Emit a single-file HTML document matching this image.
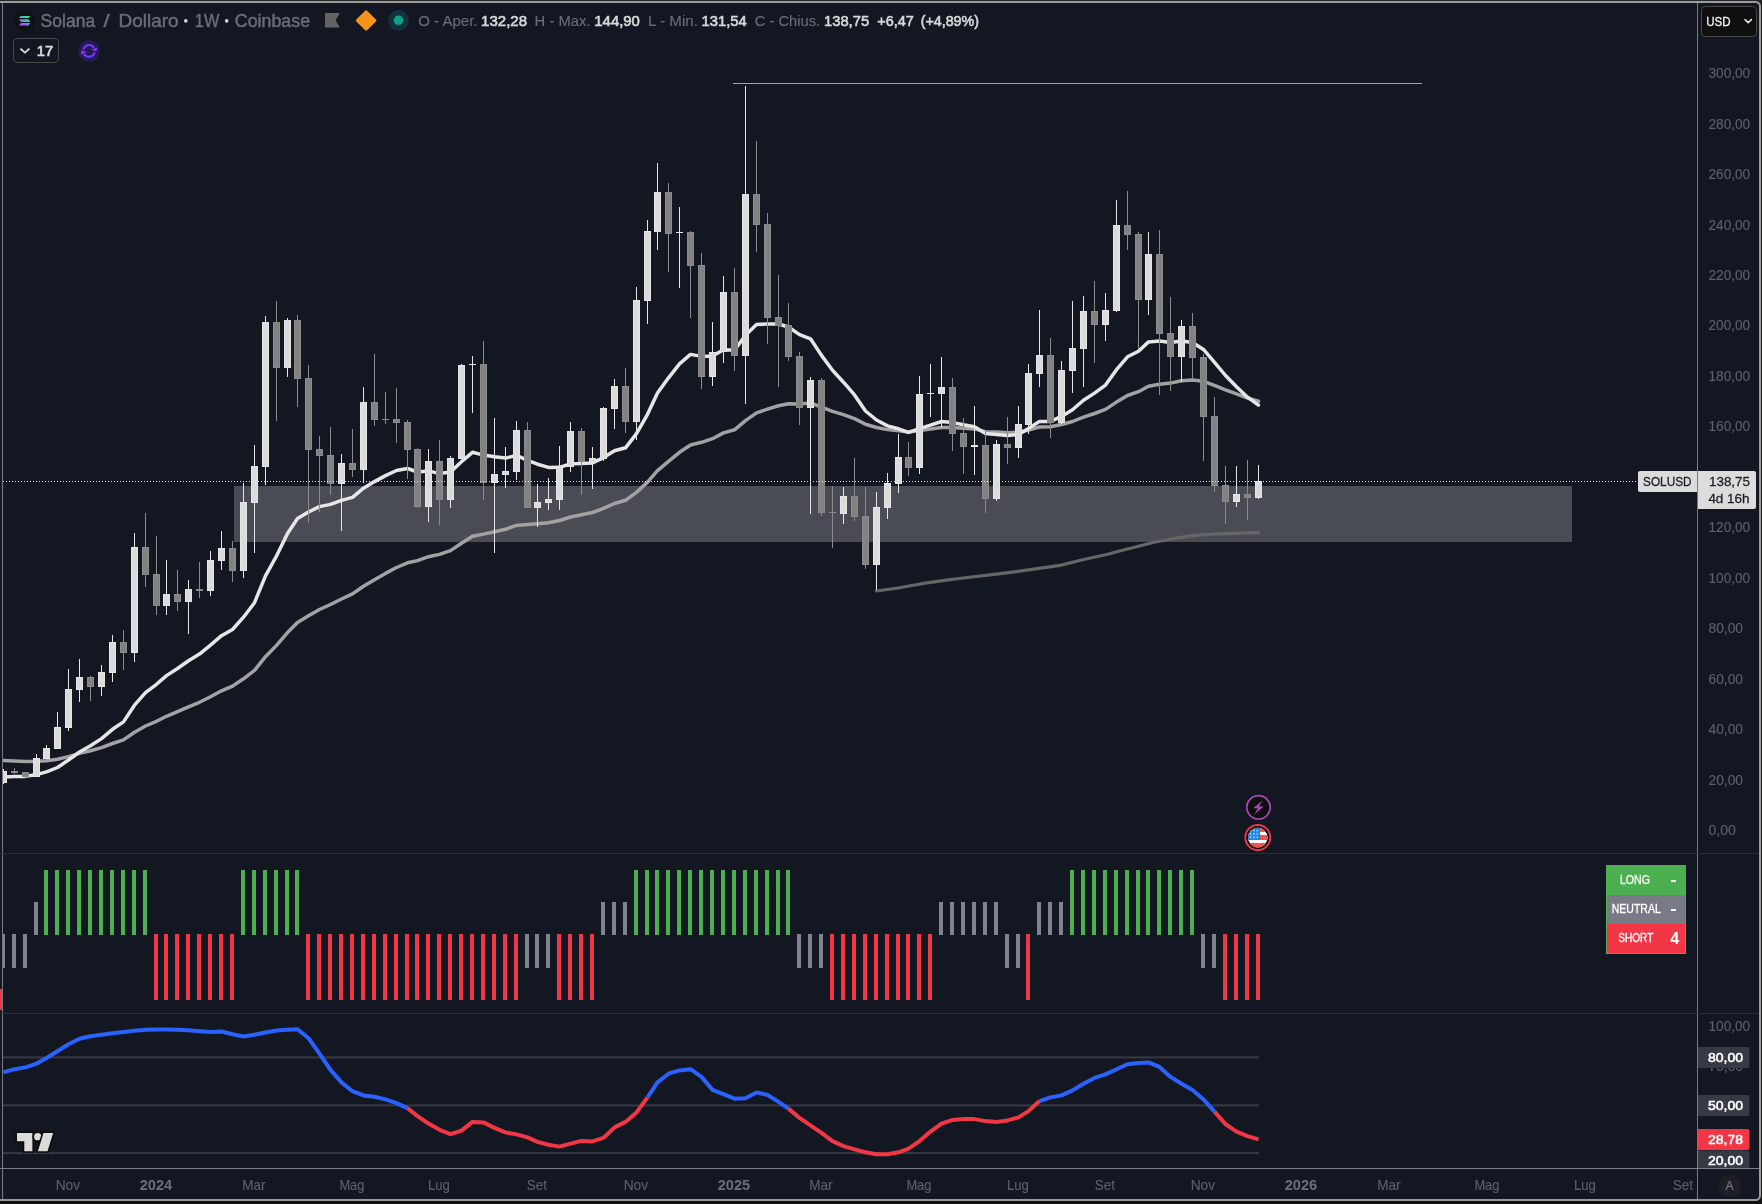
<!DOCTYPE html>
<html><head><meta charset="utf-8"><title>SOLUSD</title>
<style>
html,body{margin:0;padding:0;background:#111111;}
body{width:1762px;height:1204px;overflow:hidden;position:relative;font-family:"Liberation Sans",sans-serif;}
svg{position:absolute;left:0;top:0;display:block;will-change:transform}
text{font-family:"Liberation Sans",sans-serif;}
.ax{fill:#5d606b;font-size:13px}
.axw{fill:#ffffff;font-size:13px;font-weight:bold}
.tm{fill:#5d606b;font-size:14px}
.tmb{fill:#6a6d78;font-size:14px;font-weight:bold}
</style></head><body>
<svg width="1762" height="1204" viewBox="0 0 1762 1204">
<rect x="0" y="0" width="1762" height="2" fill="#262626"/>
<rect x="1758" y="0" width="4" height="8" fill="#262626"/>
<rect x="1761" y="0" width="1" height="1204" fill="#1c1c1c"/>
<rect x="-10" y="2" width="1770" height="1198" rx="4.5" fill="#131722" stroke="#9b9b9b" stroke-width="2"/>
<defs><clipPath id="cm"><rect x="3" y="3" width="1694" height="850"/></clipPath><clipPath id="co"><rect x="3" y="1014" width="1694" height="154"/></clipPath></defs>
<g clip-path="url(#cm)">
<rect x="234" y="486" width="1338" height="56" fill="#4a4c55" shape-rendering="crispEdges"/>
<rect x="733" y="83" width="689" height="1" fill="#f7931a" shape-rendering="crispEdges"/>
<path d="M876.4,591.0 L899.1,587.8 L921.8,583.7 L944.5,580.3 L967.2,577.5 L989.9,574.9 L1012.6,572.1 L1035.3,568.8 L1060.0,565.4 L1083.8,559.5 L1107.7,554.3 L1119.6,551.0 L1131.5,548.0 L1143.4,545.0 L1155.4,542.0 L1167.3,539.7 L1179.2,537.6 L1191.1,535.8 L1203.0,534.6 L1215.0,534.0 L1226.9,533.6 L1238.8,533.2 L1258.5,532.6" fill="none" stroke="#666666" stroke-width="3.2" stroke-linejoin="round" stroke-linecap="round"/>
<path d="M3.5,760.4 L14.5,760.9 L25.5,761.4 L36.5,761.3 L46.5,760.7 L57.5,759.3 L68.5,756.6 L79.5,753.4 L90.5,750.8 L101.5,747.6 L112.5,743.5 L123.5,739.9 L134.5,732.3 L145.5,726.0 L156.5,721.3 L166.5,716.3 L177.5,711.7 L188.5,706.9 L199.5,702.3 L210.5,696.7 L221.5,690.8 L232.5,686.1 L243.5,678.8 L254.5,670.4 L265.5,656.7 L276.5,645.4 L287.5,632.6 L297.5,622.6 L308.5,615.8 L319.5,609.5 L330.5,604.5 L341.5,599.0 L352.5,593.9 L363.5,586.3 L374.5,579.7 L385.5,573.4 L396.5,567.5 L407.5,562.8 L417.5,560.6 L428.5,556.7 L439.5,554.4 L450.5,550.6 L461.5,543.3 L472.5,536.2 L483.5,534.1 L494.5,531.7 L505.5,529.3 L516.5,525.4 L527.5,524.6 L537.5,523.7 L548.5,522.7 L559.5,520.5 L570.5,517.0 L581.5,514.8 L592.5,512.5 L603.5,508.4 L614.5,503.5 L625.5,500.3 L636.5,492.4 L647.5,482.1 L657.5,470.7 L668.5,461.4 L679.5,452.3 L690.5,445.0 L701.5,442.3 L712.5,438.7 L723.5,432.9 L734.5,429.8 L745.5,420.6 L756.5,412.9 L767.5,409.1 L778.5,405.8 L788.5,403.8 L799.5,403.9 L810.5,403.0 L821.5,407.2 L832.5,411.4 L843.5,414.6 L854.5,418.6 L865.5,424.3 L876.5,427.5 L887.5,429.6 L898.5,430.7 L908.5,432.1 L919.5,430.6 L930.5,429.1 L941.5,427.4 L952.5,427.6 L963.5,428.3 L974.5,428.9 L985.5,431.7 L996.5,432.1 L1007.5,432.7 L1018.5,432.3 L1028.5,430.0 L1039.5,427.0 L1050.5,426.8 L1061.5,424.5 L1072.5,421.5 L1083.5,417.1 L1094.5,413.5 L1105.5,409.4 L1116.5,402.1 L1127.5,395.5 L1138.5,391.7 L1148.5,386.3 L1159.5,384.2 L1170.5,383.1 L1181.5,380.8 L1192.5,379.9 L1203.5,381.3 L1214.5,385.3 L1225.5,389.9 L1236.5,393.9 L1247.5,398.0 L1258.5,401.2" fill="none" stroke="#a2a2a2" stroke-width="3.5" stroke-linejoin="round" stroke-linecap="round"/>
<path d="M3.5,776.9 L14.5,776.4 L25.5,776.4 L36.5,774.5 L46.5,771.9 L57.5,767.5 L68.5,760.0 L79.5,752.0 L90.5,745.7 L101.5,738.6 L112.5,729.3 L123.5,721.9 L134.5,705.2 L145.5,692.7 L156.5,684.3 L166.5,675.6 L177.5,668.5 L188.5,660.8 L199.5,654.1 L210.5,645.1 L221.5,635.7 L232.5,629.5 L243.5,617.2 L254.5,602.7 L265.5,575.9 L276.5,556.0 L287.5,533.4 L297.5,518.6 L308.5,512.0 L319.5,506.6 L330.5,504.4 L341.5,500.4 L352.5,497.4 L363.5,488.2 L374.5,481.6 L385.5,475.6 L396.5,470.5 L407.5,468.5 L417.5,472.0 L428.5,470.9 L439.5,473.6 L450.5,472.0 L461.5,461.7 L472.5,452.3 L483.5,455.1 L494.5,456.8 L505.5,458.1 L516.5,455.4 L527.5,460.3 L537.5,464.2 L548.5,467.4 L559.5,467.3 L570.5,463.8 L581.5,463.5 L592.5,462.9 L603.5,457.6 L614.5,450.7 L625.5,447.8 L636.5,433.7 L647.5,414.3 L657.5,393.0 L668.5,377.8 L679.5,363.8 L690.5,354.4 L701.5,356.4 L712.5,355.9 L723.5,349.7 L734.5,350.2 L745.5,335.2 L756.5,324.6 L767.5,323.9 L778.5,324.0 L788.5,327.0 L799.5,334.6 L810.5,338.8 L821.5,355.4 L832.5,370.3 L843.5,382.2 L854.5,394.9 L865.5,411.0 L876.5,420.0 L887.5,425.9 L898.5,428.8 L908.5,432.4 L919.5,428.7 L930.5,425.2 L941.5,421.5 L952.5,422.6 L963.5,424.8 L974.5,426.7 L985.5,433.4 L996.5,434.4 L1007.5,435.6 L1018.5,434.4 L1028.5,428.5 L1039.5,421.4 L1050.5,421.4 L1061.5,416.4 L1072.5,409.8 L1083.5,400.3 L1094.5,393.1 L1105.5,385.1 L1116.5,369.7 L1127.5,356.8 L1138.5,351.3 L1148.5,341.9 L1159.5,341.1 L1170.5,342.5 L1181.5,340.9 L1192.5,342.4 L1203.5,349.4 L1214.5,362.3 L1225.5,375.5 L1236.5,386.7 L1247.5,397.2 L1258.5,405.1" fill="none" stroke="#e6e6e6" stroke-width="3.5" stroke-linejoin="round" stroke-linecap="round"/>
<g shape-rendering="crispEdges">
<rect x="3" y="769" width="1" height="15" fill="#e5e5e5"/>
<rect x="0" y="771" width="7" height="12" fill="#e5e5e5"/>
<rect x="1" y="772" width="5" height="10" fill="#dbdbdb"/>
<rect x="14" y="768" width="1" height="6" fill="#8b8b8b"/>
<rect x="11" y="771" width="7" height="2" fill="#8b8b8b"/>
<rect x="25" y="772" width="1" height="6" fill="#8b8b8b"/>
<rect x="22" y="772" width="7" height="5" fill="#8b8b8b"/>
<rect x="23" y="773" width="5" height="3" fill="#828282"/>
<rect x="36" y="754" width="1" height="23" fill="#e5e5e5"/>
<rect x="33" y="758" width="7" height="19" fill="#e5e5e5"/>
<rect x="34" y="759" width="5" height="17" fill="#dbdbdb"/>
<rect x="46" y="745" width="1" height="14" fill="#e5e5e5"/>
<rect x="43" y="748" width="7" height="11" fill="#e5e5e5"/>
<rect x="44" y="749" width="5" height="9" fill="#dbdbdb"/>
<rect x="57" y="712" width="1" height="37" fill="#e5e5e5"/>
<rect x="54" y="727" width="7" height="22" fill="#e5e5e5"/>
<rect x="55" y="728" width="5" height="20" fill="#dbdbdb"/>
<rect x="68" y="669" width="1" height="62" fill="#e5e5e5"/>
<rect x="65" y="689" width="7" height="39" fill="#e5e5e5"/>
<rect x="66" y="690" width="5" height="37" fill="#dbdbdb"/>
<rect x="79" y="659" width="1" height="43" fill="#e5e5e5"/>
<rect x="76" y="677" width="7" height="13" fill="#e5e5e5"/>
<rect x="77" y="678" width="5" height="11" fill="#dbdbdb"/>
<rect x="90" y="676" width="1" height="25" fill="#8b8b8b"/>
<rect x="87" y="677" width="7" height="10" fill="#8b8b8b"/>
<rect x="88" y="678" width="5" height="8" fill="#828282"/>
<rect x="101" y="665" width="1" height="31" fill="#e5e5e5"/>
<rect x="98" y="672" width="7" height="15" fill="#e5e5e5"/>
<rect x="99" y="673" width="5" height="13" fill="#dbdbdb"/>
<rect x="112" y="635" width="1" height="47" fill="#e5e5e5"/>
<rect x="109" y="642" width="7" height="31" fill="#e5e5e5"/>
<rect x="110" y="643" width="5" height="29" fill="#dbdbdb"/>
<rect x="123" y="630" width="1" height="40" fill="#8b8b8b"/>
<rect x="120" y="642" width="7" height="11" fill="#8b8b8b"/>
<rect x="121" y="643" width="5" height="9" fill="#828282"/>
<rect x="134" y="533" width="1" height="129" fill="#e5e5e5"/>
<rect x="131" y="547" width="7" height="106" fill="#e5e5e5"/>
<rect x="132" y="548" width="5" height="104" fill="#dbdbdb"/>
<rect x="145" y="513" width="1" height="74" fill="#8b8b8b"/>
<rect x="142" y="547" width="7" height="28" fill="#8b8b8b"/>
<rect x="143" y="548" width="5" height="26" fill="#828282"/>
<rect x="156" y="536" width="1" height="79" fill="#8b8b8b"/>
<rect x="153" y="574" width="7" height="32" fill="#8b8b8b"/>
<rect x="154" y="575" width="5" height="30" fill="#828282"/>
<rect x="166" y="560" width="1" height="55" fill="#e5e5e5"/>
<rect x="163" y="594" width="7" height="12" fill="#e5e5e5"/>
<rect x="164" y="595" width="5" height="10" fill="#dbdbdb"/>
<rect x="177" y="570" width="1" height="41" fill="#8b8b8b"/>
<rect x="174" y="594" width="7" height="8" fill="#8b8b8b"/>
<rect x="175" y="595" width="5" height="6" fill="#828282"/>
<rect x="188" y="580" width="1" height="54" fill="#e5e5e5"/>
<rect x="185" y="589" width="7" height="13" fill="#e5e5e5"/>
<rect x="186" y="590" width="5" height="11" fill="#dbdbdb"/>
<rect x="199" y="562" width="1" height="36" fill="#8b8b8b"/>
<rect x="196" y="589" width="7" height="2" fill="#8b8b8b"/>
<rect x="210" y="551" width="1" height="45" fill="#e5e5e5"/>
<rect x="207" y="560" width="7" height="31" fill="#e5e5e5"/>
<rect x="208" y="561" width="5" height="29" fill="#dbdbdb"/>
<rect x="221" y="531" width="1" height="39" fill="#e5e5e5"/>
<rect x="218" y="548" width="7" height="13" fill="#e5e5e5"/>
<rect x="219" y="549" width="5" height="11" fill="#dbdbdb"/>
<rect x="232" y="541" width="1" height="41" fill="#8b8b8b"/>
<rect x="229" y="548" width="7" height="23" fill="#8b8b8b"/>
<rect x="230" y="549" width="5" height="21" fill="#828282"/>
<rect x="243" y="483" width="1" height="95" fill="#e5e5e5"/>
<rect x="240" y="502" width="7" height="69" fill="#e5e5e5"/>
<rect x="241" y="503" width="5" height="67" fill="#dbdbdb"/>
<rect x="254" y="445" width="1" height="108" fill="#e5e5e5"/>
<rect x="251" y="466" width="7" height="37" fill="#e5e5e5"/>
<rect x="252" y="467" width="5" height="35" fill="#dbdbdb"/>
<rect x="265" y="316" width="1" height="169" fill="#e5e5e5"/>
<rect x="262" y="322" width="7" height="145" fill="#e5e5e5"/>
<rect x="263" y="323" width="5" height="143" fill="#dbdbdb"/>
<rect x="276" y="301" width="1" height="120" fill="#8b8b8b"/>
<rect x="273" y="322" width="7" height="46" fill="#8b8b8b"/>
<rect x="274" y="323" width="5" height="44" fill="#828282"/>
<rect x="287" y="318" width="1" height="59" fill="#e5e5e5"/>
<rect x="284" y="320" width="7" height="48" fill="#e5e5e5"/>
<rect x="285" y="321" width="5" height="46" fill="#dbdbdb"/>
<rect x="297" y="315" width="1" height="92" fill="#8b8b8b"/>
<rect x="294" y="320" width="7" height="59" fill="#8b8b8b"/>
<rect x="295" y="321" width="5" height="57" fill="#828282"/>
<rect x="308" y="365" width="1" height="158" fill="#8b8b8b"/>
<rect x="305" y="378" width="7" height="72" fill="#8b8b8b"/>
<rect x="306" y="379" width="5" height="70" fill="#828282"/>
<rect x="319" y="436" width="1" height="76" fill="#8b8b8b"/>
<rect x="316" y="449" width="7" height="7" fill="#8b8b8b"/>
<rect x="317" y="450" width="5" height="5" fill="#828282"/>
<rect x="330" y="427" width="1" height="68" fill="#8b8b8b"/>
<rect x="327" y="455" width="7" height="29" fill="#8b8b8b"/>
<rect x="328" y="456" width="5" height="27" fill="#828282"/>
<rect x="341" y="454" width="1" height="77" fill="#e5e5e5"/>
<rect x="338" y="463" width="7" height="21" fill="#e5e5e5"/>
<rect x="339" y="464" width="5" height="19" fill="#dbdbdb"/>
<rect x="352" y="429" width="1" height="48" fill="#8b8b8b"/>
<rect x="349" y="463" width="7" height="7" fill="#8b8b8b"/>
<rect x="350" y="464" width="5" height="5" fill="#828282"/>
<rect x="363" y="387" width="1" height="96" fill="#e5e5e5"/>
<rect x="360" y="402" width="7" height="68" fill="#e5e5e5"/>
<rect x="361" y="403" width="5" height="66" fill="#dbdbdb"/>
<rect x="374" y="354" width="1" height="72" fill="#8b8b8b"/>
<rect x="371" y="402" width="7" height="18" fill="#8b8b8b"/>
<rect x="372" y="403" width="5" height="16" fill="#828282"/>
<rect x="385" y="392" width="1" height="32" fill="#8b8b8b"/>
<rect x="382" y="419" width="7" height="1" fill="#8b8b8b"/>
<rect x="396" y="388" width="1" height="55" fill="#8b8b8b"/>
<rect x="393" y="419" width="7" height="4" fill="#8b8b8b"/>
<rect x="394" y="420" width="5" height="2" fill="#828282"/>
<rect x="407" y="420" width="1" height="59" fill="#8b8b8b"/>
<rect x="404" y="422" width="7" height="28" fill="#8b8b8b"/>
<rect x="405" y="423" width="5" height="26" fill="#828282"/>
<rect x="417" y="448" width="1" height="60" fill="#8b8b8b"/>
<rect x="414" y="449" width="7" height="58" fill="#8b8b8b"/>
<rect x="415" y="450" width="5" height="56" fill="#828282"/>
<rect x="428" y="449" width="1" height="73" fill="#e5e5e5"/>
<rect x="425" y="461" width="7" height="46" fill="#e5e5e5"/>
<rect x="426" y="462" width="5" height="44" fill="#dbdbdb"/>
<rect x="439" y="440" width="1" height="85" fill="#8b8b8b"/>
<rect x="436" y="461" width="7" height="39" fill="#8b8b8b"/>
<rect x="437" y="462" width="5" height="37" fill="#828282"/>
<rect x="450" y="456" width="1" height="52" fill="#e5e5e5"/>
<rect x="447" y="458" width="7" height="42" fill="#e5e5e5"/>
<rect x="448" y="459" width="5" height="40" fill="#dbdbdb"/>
<rect x="461" y="364" width="1" height="95" fill="#e5e5e5"/>
<rect x="458" y="365" width="7" height="94" fill="#e5e5e5"/>
<rect x="459" y="366" width="5" height="92" fill="#dbdbdb"/>
<rect x="472" y="356" width="1" height="57" fill="#e5e5e5"/>
<rect x="469" y="364" width="7" height="1" fill="#e5e5e5"/>
<rect x="483" y="341" width="1" height="159" fill="#8b8b8b"/>
<rect x="480" y="364" width="7" height="119" fill="#8b8b8b"/>
<rect x="481" y="365" width="5" height="117" fill="#828282"/>
<rect x="494" y="418" width="1" height="135" fill="#e5e5e5"/>
<rect x="491" y="474" width="7" height="9" fill="#e5e5e5"/>
<rect x="492" y="475" width="5" height="7" fill="#dbdbdb"/>
<rect x="505" y="447" width="1" height="41" fill="#e5e5e5"/>
<rect x="502" y="471" width="7" height="4" fill="#e5e5e5"/>
<rect x="503" y="472" width="5" height="2" fill="#dbdbdb"/>
<rect x="516" y="421" width="1" height="59" fill="#e5e5e5"/>
<rect x="513" y="430" width="7" height="42" fill="#e5e5e5"/>
<rect x="514" y="431" width="5" height="40" fill="#dbdbdb"/>
<rect x="527" y="422" width="1" height="86" fill="#8b8b8b"/>
<rect x="524" y="430" width="7" height="78" fill="#8b8b8b"/>
<rect x="525" y="431" width="5" height="76" fill="#828282"/>
<rect x="537" y="484" width="1" height="43" fill="#e5e5e5"/>
<rect x="534" y="502" width="7" height="6" fill="#e5e5e5"/>
<rect x="535" y="503" width="5" height="4" fill="#dbdbdb"/>
<rect x="548" y="478" width="1" height="32" fill="#e5e5e5"/>
<rect x="545" y="499" width="7" height="4" fill="#e5e5e5"/>
<rect x="546" y="500" width="5" height="2" fill="#dbdbdb"/>
<rect x="559" y="446" width="1" height="64" fill="#e5e5e5"/>
<rect x="556" y="467" width="7" height="33" fill="#e5e5e5"/>
<rect x="557" y="468" width="5" height="31" fill="#dbdbdb"/>
<rect x="570" y="422" width="1" height="50" fill="#e5e5e5"/>
<rect x="567" y="431" width="7" height="36" fill="#e5e5e5"/>
<rect x="568" y="432" width="5" height="34" fill="#dbdbdb"/>
<rect x="581" y="428" width="1" height="67" fill="#8b8b8b"/>
<rect x="578" y="431" width="7" height="31" fill="#8b8b8b"/>
<rect x="579" y="432" width="5" height="29" fill="#828282"/>
<rect x="592" y="447" width="1" height="42" fill="#e5e5e5"/>
<rect x="589" y="458" width="7" height="5" fill="#e5e5e5"/>
<rect x="590" y="459" width="5" height="3" fill="#dbdbdb"/>
<rect x="603" y="407" width="1" height="54" fill="#e5e5e5"/>
<rect x="600" y="408" width="7" height="51" fill="#e5e5e5"/>
<rect x="601" y="409" width="5" height="49" fill="#dbdbdb"/>
<rect x="614" y="379" width="1" height="50" fill="#e5e5e5"/>
<rect x="611" y="386" width="7" height="23" fill="#e5e5e5"/>
<rect x="612" y="387" width="5" height="21" fill="#dbdbdb"/>
<rect x="625" y="368" width="1" height="65" fill="#8b8b8b"/>
<rect x="622" y="386" width="7" height="36" fill="#8b8b8b"/>
<rect x="623" y="387" width="5" height="34" fill="#828282"/>
<rect x="636" y="287" width="1" height="153" fill="#e5e5e5"/>
<rect x="633" y="300" width="7" height="122" fill="#e5e5e5"/>
<rect x="634" y="301" width="5" height="120" fill="#dbdbdb"/>
<rect x="647" y="220" width="1" height="104" fill="#e5e5e5"/>
<rect x="644" y="231" width="7" height="70" fill="#e5e5e5"/>
<rect x="645" y="232" width="5" height="68" fill="#dbdbdb"/>
<rect x="657" y="163" width="1" height="87" fill="#e5e5e5"/>
<rect x="654" y="192" width="7" height="40" fill="#e5e5e5"/>
<rect x="655" y="193" width="5" height="38" fill="#dbdbdb"/>
<rect x="668" y="183" width="1" height="89" fill="#8b8b8b"/>
<rect x="665" y="192" width="7" height="42" fill="#8b8b8b"/>
<rect x="666" y="193" width="5" height="40" fill="#828282"/>
<rect x="679" y="207" width="1" height="81" fill="#e5e5e5"/>
<rect x="676" y="232" width="7" height="1" fill="#e5e5e5"/>
<rect x="690" y="231" width="1" height="87" fill="#8b8b8b"/>
<rect x="687" y="232" width="7" height="34" fill="#8b8b8b"/>
<rect x="688" y="233" width="5" height="32" fill="#828282"/>
<rect x="701" y="253" width="1" height="136" fill="#8b8b8b"/>
<rect x="698" y="265" width="7" height="112" fill="#8b8b8b"/>
<rect x="699" y="266" width="5" height="110" fill="#828282"/>
<rect x="712" y="322" width="1" height="64" fill="#e5e5e5"/>
<rect x="709" y="352" width="7" height="25" fill="#e5e5e5"/>
<rect x="710" y="353" width="5" height="23" fill="#dbdbdb"/>
<rect x="723" y="276" width="1" height="87" fill="#e5e5e5"/>
<rect x="720" y="292" width="7" height="60" fill="#e5e5e5"/>
<rect x="721" y="293" width="5" height="58" fill="#dbdbdb"/>
<rect x="734" y="268" width="1" height="103" fill="#8b8b8b"/>
<rect x="731" y="292" width="7" height="64" fill="#8b8b8b"/>
<rect x="732" y="293" width="5" height="62" fill="#828282"/>
<rect x="745" y="86" width="1" height="318" fill="#e5e5e5"/>
<rect x="742" y="194" width="7" height="162" fill="#e5e5e5"/>
<rect x="743" y="195" width="5" height="160" fill="#dbdbdb"/>
<rect x="756" y="141" width="1" height="111" fill="#8b8b8b"/>
<rect x="753" y="194" width="7" height="31" fill="#8b8b8b"/>
<rect x="754" y="195" width="5" height="29" fill="#828282"/>
<rect x="767" y="213" width="1" height="131" fill="#8b8b8b"/>
<rect x="764" y="224" width="7" height="94" fill="#8b8b8b"/>
<rect x="765" y="225" width="5" height="92" fill="#828282"/>
<rect x="778" y="275" width="1" height="112" fill="#8b8b8b"/>
<rect x="775" y="317" width="7" height="9" fill="#8b8b8b"/>
<rect x="776" y="318" width="5" height="7" fill="#828282"/>
<rect x="788" y="303" width="1" height="58" fill="#8b8b8b"/>
<rect x="785" y="325" width="7" height="32" fill="#8b8b8b"/>
<rect x="786" y="326" width="5" height="30" fill="#828282"/>
<rect x="799" y="352" width="1" height="73" fill="#8b8b8b"/>
<rect x="796" y="356" width="7" height="52" fill="#8b8b8b"/>
<rect x="797" y="357" width="5" height="50" fill="#828282"/>
<rect x="810" y="377" width="1" height="137" fill="#e5e5e5"/>
<rect x="807" y="380" width="7" height="28" fill="#e5e5e5"/>
<rect x="808" y="381" width="5" height="26" fill="#dbdbdb"/>
<rect x="821" y="378" width="1" height="138" fill="#8b8b8b"/>
<rect x="818" y="380" width="7" height="133" fill="#8b8b8b"/>
<rect x="819" y="381" width="5" height="131" fill="#828282"/>
<rect x="832" y="486" width="1" height="62" fill="#8b8b8b"/>
<rect x="829" y="512" width="7" height="1" fill="#8b8b8b"/>
<rect x="843" y="487" width="1" height="37" fill="#e5e5e5"/>
<rect x="840" y="496" width="7" height="18" fill="#e5e5e5"/>
<rect x="841" y="497" width="5" height="16" fill="#dbdbdb"/>
<rect x="854" y="458" width="1" height="63" fill="#8b8b8b"/>
<rect x="851" y="496" width="7" height="21" fill="#8b8b8b"/>
<rect x="852" y="497" width="5" height="19" fill="#828282"/>
<rect x="865" y="487" width="1" height="82" fill="#8b8b8b"/>
<rect x="862" y="516" width="7" height="49" fill="#8b8b8b"/>
<rect x="863" y="517" width="5" height="47" fill="#828282"/>
<rect x="876" y="492" width="1" height="98" fill="#e5e5e5"/>
<rect x="873" y="507" width="7" height="58" fill="#e5e5e5"/>
<rect x="874" y="508" width="5" height="56" fill="#dbdbdb"/>
<rect x="887" y="473" width="1" height="46" fill="#e5e5e5"/>
<rect x="884" y="483" width="7" height="25" fill="#e5e5e5"/>
<rect x="885" y="484" width="5" height="23" fill="#dbdbdb"/>
<rect x="898" y="434" width="1" height="59" fill="#e5e5e5"/>
<rect x="895" y="457" width="7" height="27" fill="#e5e5e5"/>
<rect x="896" y="458" width="5" height="25" fill="#dbdbdb"/>
<rect x="908" y="442" width="1" height="34" fill="#8b8b8b"/>
<rect x="905" y="457" width="7" height="11" fill="#8b8b8b"/>
<rect x="906" y="458" width="5" height="9" fill="#828282"/>
<rect x="919" y="376" width="1" height="98" fill="#e5e5e5"/>
<rect x="916" y="394" width="7" height="74" fill="#e5e5e5"/>
<rect x="917" y="395" width="5" height="72" fill="#dbdbdb"/>
<rect x="930" y="364" width="1" height="53" fill="#e5e5e5"/>
<rect x="927" y="393" width="7" height="1" fill="#e5e5e5"/>
<rect x="941" y="357" width="1" height="71" fill="#e5e5e5"/>
<rect x="938" y="387" width="7" height="7" fill="#e5e5e5"/>
<rect x="939" y="388" width="5" height="5" fill="#dbdbdb"/>
<rect x="952" y="378" width="1" height="73" fill="#8b8b8b"/>
<rect x="949" y="387" width="7" height="47" fill="#8b8b8b"/>
<rect x="950" y="388" width="5" height="45" fill="#828282"/>
<rect x="963" y="418" width="1" height="56" fill="#8b8b8b"/>
<rect x="960" y="433" width="7" height="14" fill="#8b8b8b"/>
<rect x="961" y="434" width="5" height="12" fill="#828282"/>
<rect x="974" y="406" width="1" height="69" fill="#e5e5e5"/>
<rect x="971" y="445" width="7" height="2" fill="#e5e5e5"/>
<rect x="985" y="431" width="1" height="82" fill="#8b8b8b"/>
<rect x="982" y="445" width="7" height="54" fill="#8b8b8b"/>
<rect x="983" y="446" width="5" height="52" fill="#828282"/>
<rect x="996" y="440" width="1" height="61" fill="#e5e5e5"/>
<rect x="993" y="444" width="7" height="55" fill="#e5e5e5"/>
<rect x="994" y="445" width="5" height="53" fill="#dbdbdb"/>
<rect x="1007" y="417" width="1" height="47" fill="#8b8b8b"/>
<rect x="1004" y="444" width="7" height="4" fill="#8b8b8b"/>
<rect x="1005" y="445" width="5" height="2" fill="#828282"/>
<rect x="1018" y="406" width="1" height="52" fill="#e5e5e5"/>
<rect x="1015" y="424" width="7" height="24" fill="#e5e5e5"/>
<rect x="1016" y="425" width="5" height="22" fill="#dbdbdb"/>
<rect x="1028" y="364" width="1" height="70" fill="#e5e5e5"/>
<rect x="1025" y="373" width="7" height="52" fill="#e5e5e5"/>
<rect x="1026" y="374" width="5" height="50" fill="#dbdbdb"/>
<rect x="1039" y="310" width="1" height="77" fill="#e5e5e5"/>
<rect x="1036" y="355" width="7" height="19" fill="#e5e5e5"/>
<rect x="1037" y="356" width="5" height="17" fill="#dbdbdb"/>
<rect x="1050" y="338" width="1" height="100" fill="#8b8b8b"/>
<rect x="1047" y="355" width="7" height="68" fill="#8b8b8b"/>
<rect x="1048" y="356" width="5" height="66" fill="#828282"/>
<rect x="1061" y="361" width="1" height="63" fill="#e5e5e5"/>
<rect x="1058" y="370" width="7" height="53" fill="#e5e5e5"/>
<rect x="1059" y="371" width="5" height="51" fill="#dbdbdb"/>
<rect x="1072" y="301" width="1" height="92" fill="#e5e5e5"/>
<rect x="1069" y="348" width="7" height="23" fill="#e5e5e5"/>
<rect x="1070" y="349" width="5" height="21" fill="#dbdbdb"/>
<rect x="1083" y="296" width="1" height="91" fill="#e5e5e5"/>
<rect x="1080" y="311" width="7" height="38" fill="#e5e5e5"/>
<rect x="1081" y="312" width="5" height="36" fill="#dbdbdb"/>
<rect x="1094" y="281" width="1" height="82" fill="#8b8b8b"/>
<rect x="1091" y="311" width="7" height="14" fill="#8b8b8b"/>
<rect x="1092" y="312" width="5" height="12" fill="#828282"/>
<rect x="1105" y="293" width="1" height="48" fill="#e5e5e5"/>
<rect x="1102" y="310" width="7" height="15" fill="#e5e5e5"/>
<rect x="1103" y="311" width="5" height="13" fill="#dbdbdb"/>
<rect x="1116" y="200" width="1" height="112" fill="#e5e5e5"/>
<rect x="1113" y="225" width="7" height="86" fill="#e5e5e5"/>
<rect x="1114" y="226" width="5" height="84" fill="#dbdbdb"/>
<rect x="1127" y="191" width="1" height="59" fill="#8b8b8b"/>
<rect x="1124" y="225" width="7" height="10" fill="#8b8b8b"/>
<rect x="1125" y="226" width="5" height="8" fill="#828282"/>
<rect x="1138" y="232" width="1" height="117" fill="#8b8b8b"/>
<rect x="1135" y="234" width="7" height="66" fill="#8b8b8b"/>
<rect x="1136" y="235" width="5" height="64" fill="#828282"/>
<rect x="1148" y="232" width="1" height="83" fill="#e5e5e5"/>
<rect x="1145" y="254" width="7" height="46" fill="#e5e5e5"/>
<rect x="1146" y="255" width="5" height="44" fill="#dbdbdb"/>
<rect x="1159" y="230" width="1" height="165" fill="#8b8b8b"/>
<rect x="1156" y="254" width="7" height="80" fill="#8b8b8b"/>
<rect x="1157" y="255" width="5" height="78" fill="#828282"/>
<rect x="1170" y="297" width="1" height="94" fill="#8b8b8b"/>
<rect x="1167" y="333" width="7" height="24" fill="#8b8b8b"/>
<rect x="1168" y="334" width="5" height="22" fill="#828282"/>
<rect x="1181" y="320" width="1" height="62" fill="#e5e5e5"/>
<rect x="1178" y="326" width="7" height="31" fill="#e5e5e5"/>
<rect x="1179" y="327" width="5" height="29" fill="#dbdbdb"/>
<rect x="1192" y="313" width="1" height="66" fill="#8b8b8b"/>
<rect x="1189" y="326" width="7" height="32" fill="#8b8b8b"/>
<rect x="1190" y="327" width="5" height="30" fill="#828282"/>
<rect x="1203" y="354" width="1" height="107" fill="#8b8b8b"/>
<rect x="1200" y="357" width="7" height="60" fill="#8b8b8b"/>
<rect x="1201" y="358" width="5" height="58" fill="#828282"/>
<rect x="1214" y="397" width="1" height="95" fill="#8b8b8b"/>
<rect x="1211" y="416" width="7" height="70" fill="#8b8b8b"/>
<rect x="1212" y="417" width="5" height="68" fill="#828282"/>
<rect x="1225" y="466" width="1" height="58" fill="#8b8b8b"/>
<rect x="1222" y="485" width="7" height="17" fill="#8b8b8b"/>
<rect x="1223" y="486" width="5" height="15" fill="#828282"/>
<rect x="1236" y="466" width="1" height="41" fill="#e5e5e5"/>
<rect x="1233" y="494" width="7" height="8" fill="#e5e5e5"/>
<rect x="1234" y="495" width="5" height="6" fill="#dbdbdb"/>
<rect x="1247" y="460" width="1" height="60" fill="#8b8b8b"/>
<rect x="1244" y="494" width="7" height="4" fill="#8b8b8b"/>
<rect x="1245" y="495" width="5" height="2" fill="#828282"/>
<rect x="1258" y="465" width="1" height="34" fill="#e5e5e5"/>
<rect x="1255" y="481" width="7" height="17" fill="#e5e5e5"/>
<rect x="1256" y="482" width="5" height="15" fill="#dbdbdb"/>
</g>
<line x1="3" y1="481.5" x2="1637" y2="481.5" stroke="#e6e6e6" stroke-width="1" stroke-dasharray="1 2" shape-rendering="crispEdges"/>
</g>
<g shape-rendering="crispEdges">
<rect x="1697" y="3" width="1" height="1196" fill="#787b86"/>
<rect x="2" y="3" width="1" height="1196" fill="#787b86"/>
<rect x="0" y="853" width="1759" height="1" fill="#2a2e39"/>
<rect x="0" y="1013" width="1759" height="1" fill="#2a2e39"/>
<rect x="0" y="1168" width="1759" height="1" fill="#787b86"/>
</g>
<g shape-rendering="crispEdges">
<rect x="3" y="934" width="2" height="34" fill="#80828e"/>
<rect x="12" y="934" width="4" height="34" fill="#80828e"/>
<rect x="23" y="934" width="4" height="34" fill="#80828e"/>
<rect x="34" y="902" width="4" height="33" fill="#80828e"/>
<rect x="44" y="870" width="4" height="65" fill="#4caf50"/>
<rect x="55" y="870" width="4" height="65" fill="#4caf50"/>
<rect x="66" y="870" width="4" height="65" fill="#4caf50"/>
<rect x="77" y="870" width="4" height="65" fill="#4caf50"/>
<rect x="88" y="870" width="4" height="65" fill="#4caf50"/>
<rect x="99" y="870" width="4" height="65" fill="#4caf50"/>
<rect x="110" y="870" width="4" height="65" fill="#4caf50"/>
<rect x="121" y="870" width="4" height="65" fill="#4caf50"/>
<rect x="132" y="870" width="4" height="65" fill="#4caf50"/>
<rect x="143" y="870" width="4" height="65" fill="#4caf50"/>
<rect x="154" y="934" width="4" height="66" fill="#f23645"/>
<rect x="164" y="934" width="4" height="66" fill="#f23645"/>
<rect x="175" y="934" width="4" height="66" fill="#f23645"/>
<rect x="186" y="934" width="4" height="66" fill="#f23645"/>
<rect x="197" y="934" width="4" height="66" fill="#f23645"/>
<rect x="208" y="934" width="4" height="66" fill="#f23645"/>
<rect x="219" y="934" width="4" height="66" fill="#f23645"/>
<rect x="230" y="934" width="4" height="66" fill="#f23645"/>
<rect x="241" y="870" width="4" height="65" fill="#4caf50"/>
<rect x="252" y="870" width="4" height="65" fill="#4caf50"/>
<rect x="263" y="870" width="4" height="65" fill="#4caf50"/>
<rect x="274" y="870" width="4" height="65" fill="#4caf50"/>
<rect x="285" y="870" width="4" height="65" fill="#4caf50"/>
<rect x="295" y="870" width="4" height="65" fill="#4caf50"/>
<rect x="306" y="934" width="4" height="66" fill="#f23645"/>
<rect x="317" y="934" width="4" height="66" fill="#f23645"/>
<rect x="328" y="934" width="4" height="66" fill="#f23645"/>
<rect x="339" y="934" width="4" height="66" fill="#f23645"/>
<rect x="350" y="934" width="4" height="66" fill="#f23645"/>
<rect x="361" y="934" width="4" height="66" fill="#f23645"/>
<rect x="372" y="934" width="4" height="66" fill="#f23645"/>
<rect x="383" y="934" width="4" height="66" fill="#f23645"/>
<rect x="394" y="934" width="4" height="66" fill="#f23645"/>
<rect x="405" y="934" width="4" height="66" fill="#f23645"/>
<rect x="415" y="934" width="4" height="66" fill="#f23645"/>
<rect x="426" y="934" width="4" height="66" fill="#f23645"/>
<rect x="437" y="934" width="4" height="66" fill="#f23645"/>
<rect x="448" y="934" width="4" height="66" fill="#f23645"/>
<rect x="459" y="934" width="4" height="66" fill="#f23645"/>
<rect x="470" y="934" width="4" height="66" fill="#f23645"/>
<rect x="481" y="934" width="4" height="66" fill="#f23645"/>
<rect x="492" y="934" width="4" height="66" fill="#f23645"/>
<rect x="503" y="934" width="4" height="66" fill="#f23645"/>
<rect x="514" y="934" width="4" height="66" fill="#f23645"/>
<rect x="525" y="934" width="4" height="34" fill="#80828e"/>
<rect x="535" y="934" width="4" height="34" fill="#80828e"/>
<rect x="546" y="934" width="4" height="34" fill="#80828e"/>
<rect x="557" y="934" width="4" height="66" fill="#f23645"/>
<rect x="568" y="934" width="4" height="66" fill="#f23645"/>
<rect x="579" y="934" width="4" height="66" fill="#f23645"/>
<rect x="590" y="934" width="4" height="66" fill="#f23645"/>
<rect x="601" y="902" width="4" height="33" fill="#80828e"/>
<rect x="612" y="902" width="4" height="33" fill="#80828e"/>
<rect x="623" y="902" width="4" height="33" fill="#80828e"/>
<rect x="634" y="870" width="4" height="65" fill="#4caf50"/>
<rect x="645" y="870" width="4" height="65" fill="#4caf50"/>
<rect x="655" y="870" width="4" height="65" fill="#4caf50"/>
<rect x="666" y="870" width="4" height="65" fill="#4caf50"/>
<rect x="677" y="870" width="4" height="65" fill="#4caf50"/>
<rect x="688" y="870" width="4" height="65" fill="#4caf50"/>
<rect x="699" y="870" width="4" height="65" fill="#4caf50"/>
<rect x="710" y="870" width="4" height="65" fill="#4caf50"/>
<rect x="721" y="870" width="4" height="65" fill="#4caf50"/>
<rect x="732" y="870" width="4" height="65" fill="#4caf50"/>
<rect x="743" y="870" width="4" height="65" fill="#4caf50"/>
<rect x="754" y="870" width="4" height="65" fill="#4caf50"/>
<rect x="765" y="870" width="4" height="65" fill="#4caf50"/>
<rect x="776" y="870" width="4" height="65" fill="#4caf50"/>
<rect x="786" y="870" width="4" height="65" fill="#4caf50"/>
<rect x="797" y="934" width="4" height="34" fill="#80828e"/>
<rect x="808" y="934" width="4" height="34" fill="#80828e"/>
<rect x="819" y="934" width="4" height="34" fill="#80828e"/>
<rect x="830" y="934" width="4" height="66" fill="#f23645"/>
<rect x="841" y="934" width="4" height="66" fill="#f23645"/>
<rect x="852" y="934" width="4" height="66" fill="#f23645"/>
<rect x="863" y="934" width="4" height="66" fill="#f23645"/>
<rect x="874" y="934" width="4" height="66" fill="#f23645"/>
<rect x="885" y="934" width="4" height="66" fill="#f23645"/>
<rect x="896" y="934" width="4" height="66" fill="#f23645"/>
<rect x="906" y="934" width="4" height="66" fill="#f23645"/>
<rect x="917" y="934" width="4" height="66" fill="#f23645"/>
<rect x="928" y="934" width="4" height="66" fill="#f23645"/>
<rect x="939" y="902" width="4" height="33" fill="#80828e"/>
<rect x="950" y="902" width="4" height="33" fill="#80828e"/>
<rect x="961" y="902" width="4" height="33" fill="#80828e"/>
<rect x="972" y="902" width="4" height="33" fill="#80828e"/>
<rect x="983" y="902" width="4" height="33" fill="#80828e"/>
<rect x="994" y="902" width="4" height="33" fill="#80828e"/>
<rect x="1005" y="934" width="4" height="34" fill="#80828e"/>
<rect x="1016" y="934" width="4" height="34" fill="#80828e"/>
<rect x="1026" y="934" width="4" height="66" fill="#f23645"/>
<rect x="1037" y="902" width="4" height="33" fill="#80828e"/>
<rect x="1048" y="902" width="4" height="33" fill="#80828e"/>
<rect x="1059" y="902" width="4" height="33" fill="#80828e"/>
<rect x="1070" y="870" width="4" height="65" fill="#4caf50"/>
<rect x="1081" y="870" width="4" height="65" fill="#4caf50"/>
<rect x="1092" y="870" width="4" height="65" fill="#4caf50"/>
<rect x="1103" y="870" width="4" height="65" fill="#4caf50"/>
<rect x="1114" y="870" width="4" height="65" fill="#4caf50"/>
<rect x="1125" y="870" width="4" height="65" fill="#4caf50"/>
<rect x="1136" y="870" width="4" height="65" fill="#4caf50"/>
<rect x="1146" y="870" width="4" height="65" fill="#4caf50"/>
<rect x="1157" y="870" width="4" height="65" fill="#4caf50"/>
<rect x="1168" y="870" width="4" height="65" fill="#4caf50"/>
<rect x="1179" y="870" width="4" height="65" fill="#4caf50"/>
<rect x="1190" y="870" width="4" height="65" fill="#4caf50"/>
<rect x="1201" y="934" width="4" height="34" fill="#80828e"/>
<rect x="1212" y="934" width="4" height="34" fill="#80828e"/>
<rect x="1223" y="934" width="4" height="66" fill="#f23645"/>
<rect x="1234" y="934" width="4" height="66" fill="#f23645"/>
<rect x="1245" y="934" width="4" height="66" fill="#f23645"/>
<rect x="1256" y="934" width="4" height="66" fill="#f23645"/>
<rect x="0" y="989" width="2" height="21" fill="#f23645"/>
</g>
<g clip-path="url(#co)">
<rect x="3" y="1056.4" width="1256" height="2" fill="#363a45"/>
<rect x="3" y="1104.4" width="1256" height="2" fill="#363a45"/>
<rect x="3" y="1152.1" width="1256" height="2" fill="#363a45"/>
<path d="M3.5,1072.4 L14.5,1069.2 L25.5,1067.4 L36.5,1063.7 L46.5,1058.0 L57.5,1051.2 L68.5,1044.2 L79.5,1038.7 L90.5,1036.2 L101.5,1034.7 L112.5,1033.2 L123.5,1032.0 L134.5,1030.7 L145.5,1029.7 L156.5,1029.5 L166.5,1029.5 L177.5,1029.7 L188.5,1030.2 L199.5,1031.2 L210.5,1032.0 L221.5,1031.5 L232.5,1034.2 L243.5,1036.5 L254.5,1034.7 L265.5,1032.5 L276.5,1030.5 L287.5,1029.7 L297.5,1029.2 L308.5,1038.2 L319.5,1053.7 L330.5,1069.9 L341.5,1082.4 L352.5,1091.2 L363.5,1095.4 L374.5,1096.7 L385.5,1099.4 L396.5,1103.1 L407.5,1108.1" fill="none" stroke="#2962ff" stroke-width="4" stroke-linejoin="round" stroke-linecap="butt"/>
<path d="M407.5,1108.1 L417.5,1116.1 L428.5,1123.6 L439.5,1129.8 L450.5,1134.1 L461.5,1130.6 L472.5,1121.9 L483.5,1122.4 L494.5,1127.9 L505.5,1132.4 L516.5,1134.4 L527.5,1137.4 L537.5,1141.9 L548.5,1144.8 L559.5,1146.6 L570.5,1143.6 L581.5,1140.9 L592.5,1141.4 L603.5,1137.9 L614.5,1127.4 L625.5,1121.9 L636.5,1112.4 L647.5,1097.4" fill="none" stroke="#f23645" stroke-width="4" stroke-linejoin="round" stroke-linecap="butt"/>
<path d="M647.5,1097.4 L657.5,1082.4 L668.5,1073.7 L679.5,1070.4 L690.5,1069.2 L701.5,1076.9 L712.5,1089.9 L723.5,1094.2 L734.5,1098.7 L745.5,1098.2 L756.5,1092.4 L767.5,1094.9 L778.5,1101.9 L788.5,1108.6" fill="none" stroke="#2962ff" stroke-width="4" stroke-linejoin="round" stroke-linecap="butt"/>
<path d="M788.5,1108.6 L799.5,1117.9 L810.5,1125.4 L821.5,1132.9 L832.5,1141.1 L843.5,1146.1 L854.5,1149.3 L865.5,1152.3 L876.5,1154.3 L887.5,1154.3 L898.5,1152.3 L908.5,1148.6 L919.5,1141.1 L930.5,1131.6 L941.5,1123.6 L952.5,1119.9 L963.5,1119.1 L974.5,1119.1 L985.5,1121.1 L996.5,1121.9 L1007.5,1120.4 L1018.5,1117.4 L1028.5,1111.1 L1039.5,1101.1" fill="none" stroke="#f23645" stroke-width="4" stroke-linejoin="round" stroke-linecap="butt"/>
<path d="M1039.5,1101.1 L1050.5,1097.4 L1061.5,1095.4 L1072.5,1090.4 L1083.5,1083.7 L1094.5,1077.9 L1105.5,1074.4 L1116.5,1069.2 L1127.5,1064.2 L1138.5,1062.9 L1148.5,1062.4 L1159.5,1066.9 L1170.5,1076.9 L1181.5,1083.7 L1192.5,1089.9 L1203.5,1099.4 L1214.5,1111.6" fill="none" stroke="#2962ff" stroke-width="4" stroke-linejoin="round" stroke-linecap="butt"/>
<path d="M1214.5,1111.6 L1225.5,1124.1 L1236.5,1131.6 L1247.5,1136.1 L1258.5,1139.4" fill="none" stroke="#f23645" stroke-width="4" stroke-linejoin="round" stroke-linecap="butt"/>
</g>
<defs><clipPath id="cax"><rect x="1698" y="1014" width="61" height="154"/></clipPath></defs>
<defs><linearGradient id="sg1" x1="0" y1="0" x2="1" y2="0"><stop offset="0" stop-color="#5fa8ea"/><stop offset="0.55" stop-color="#1fe3a4"/><stop offset="1" stop-color="#14f195"/></linearGradient><linearGradient id="sg2" x1="0" y1="0" x2="1" y2="0"><stop offset="0" stop-color="#8a5cf6"/><stop offset="0.6" stop-color="#3fb0d8"/><stop offset="1" stop-color="#22d6a8"/></linearGradient><linearGradient id="sg3" x1="0" y1="0" x2="1" y2="0"><stop offset="0" stop-color="#a944ff"/><stop offset="0.5" stop-color="#8f63f5"/><stop offset="1" stop-color="#4aaee6"/></linearGradient></defs>
<circle cx="24.5" cy="20.5" r="10.5" fill="#101114"/>
<path d="M20.9,15.9 H30.3 L28.4,18.1 H18.9 Z" fill="url(#sg1)"/>
<path d="M18.9,19.3 H28.4 L30.3,21.9 H20.9 Z" fill="url(#sg2)"/>
<path d="M20.9,23.1 H30.3 L28.4,25.4 H18.9 Z" fill="url(#sg3)"/>
<text x="40.6" y="26.6" font-size="18.2" fill="#6a6d78" stroke="#6a6d78" stroke-width="0.45" textLength="54.6" lengthAdjust="spacingAndGlyphs">Solana</text>
<text x="103.6" y="26.6" font-size="18.2" fill="#6a6d78" stroke="#6a6d78" stroke-width="0.45" textLength="6.1" lengthAdjust="spacingAndGlyphs">/</text>
<text x="118.5" y="26.6" font-size="18.2" fill="#6a6d78" stroke="#6a6d78" stroke-width="0.45" textLength="60.1" lengthAdjust="spacingAndGlyphs">Dollaro</text>
<circle cx="185.8" cy="20.9" r="1.8" fill="#d6d6d6"/>
<text x="194.8" y="26.6" font-size="18.2" fill="#6a6d78" stroke="#6a6d78" stroke-width="0.45" textLength="24.5" lengthAdjust="spacingAndGlyphs">1W</text>
<circle cx="226.7" cy="20.9" r="1.8" fill="#d6d6d6"/>
<text x="234.8" y="26.6" font-size="18.2" fill="#6a6d78" stroke="#6a6d78" stroke-width="0.45" textLength="75.3" lengthAdjust="spacingAndGlyphs">Coinbase</text>
<path d="M325.6,13 H338.8 Q339.8,13 339.3,13.9 L335.6,20.2 L339.3,26.5 Q339.8,27.4 338.8,27.4 H325.6 Q325,27.4 325,26.8 V13.6 Q325,13 325.6,13 Z" fill="#646464"/>
<rect x="358.5" y="12.9" width="15.2" height="15.2" rx="1.6" transform="rotate(45 366.1 20.5)" fill="#f7931a"/>
<circle cx="398.5" cy="20.3" r="10.5" fill="#16303a"/>
<circle cx="398.5" cy="20.3" r="4.8" fill="#0e9f8a"/>
<text x="418.2" y="25.6" font-size="14.5" fill="#6a6d78" stroke="#6a6d78" stroke-width="0.12" textLength="59.3" lengthAdjust="spacingAndGlyphs">O - Aper.</text>
<text x="481.1" y="25.6" font-size="14.6" fill="#d8d8d8" stroke="#d8d8d8" stroke-width="0.6" textLength="46" lengthAdjust="spacingAndGlyphs">132,28</text>
<text x="534.6" y="25.6" font-size="14.5" fill="#6a6d78" stroke="#6a6d78" stroke-width="0.12" textLength="55.9" lengthAdjust="spacingAndGlyphs">H - Max.</text>
<text x="594.3" y="25.6" font-size="14.6" fill="#d8d8d8" stroke="#d8d8d8" stroke-width="0.6" textLength="45.6" lengthAdjust="spacingAndGlyphs">144,90</text>
<text x="648.1" y="25.6" font-size="14.5" fill="#6a6d78" stroke="#6a6d78" stroke-width="0.12" textLength="49.8" lengthAdjust="spacingAndGlyphs">L - Min.</text>
<text x="701.6" y="25.6" font-size="14.6" fill="#d8d8d8" stroke="#d8d8d8" stroke-width="0.6" textLength="45.2" lengthAdjust="spacingAndGlyphs">131,54</text>
<text x="754.7" y="25.6" font-size="14.5" fill="#6a6d78" stroke="#6a6d78" stroke-width="0.12" textLength="65.4" lengthAdjust="spacingAndGlyphs">C - Chius.</text>
<text x="824" y="25.6" font-size="14.6" fill="#d8d8d8" stroke="#d8d8d8" stroke-width="0.6" textLength="45.1" lengthAdjust="spacingAndGlyphs">138,75</text>
<text x="877.3" y="25.6" font-size="14.6" fill="#d8d8d8" stroke="#d8d8d8" stroke-width="0.6" textLength="36.6" lengthAdjust="spacingAndGlyphs">+6,47</text>
<text x="920.7" y="25.6" font-size="14.6" fill="#d8d8d8" stroke="#d8d8d8" stroke-width="0.6" textLength="58.3" lengthAdjust="spacingAndGlyphs">(+4,89%)</text>
<rect x="13.5" y="38.5" width="45" height="24" rx="3.5" fill="none" stroke="#4b4843" stroke-width="1"/>
<path d="M20.4,48.6 L24.9,52.6 L29.4,48.6" fill="none" stroke="#dcdcdc" stroke-width="1.9" stroke-linecap="butt" stroke-linejoin="miter"/>
<text x="36.8" y="56" font-size="15" fill="#dcdcdc" stroke="#dcdcdc" stroke-width="0.7" textLength="16.4" lengthAdjust="spacingAndGlyphs">17</text>
<circle cx="89" cy="50.9" r="10.9" fill="#251a55"/>
<g fill="none" stroke="#7a38ff" stroke-width="2.1" stroke-linecap="butt"><path d="M83.3,49.6 A5.9,5.9 0 0 1 94,47.8"/><path d="M94.7,52.2 A5.9,5.9 0 0 1 84,54"/></g>
<path d="M91.3,49.6 L97.4,47.4 L96.3,51.6 Z" fill="#7a38ff"/>
<path d="M86.7,52.2 L80.6,54.4 L81.7,50.2 Z" fill="#7a38ff"/>
<rect x="1701.5" y="6.5" width="55" height="30" rx="4" fill="#0f0f0f" stroke="#4a4a4a" stroke-width="1"/>
<text x="1706.2" y="25.8" font-size="13" fill="#f2f2f2" stroke="#f2f2f2" stroke-width="0.3" textLength="24.4" lengthAdjust="spacingAndGlyphs">USD</text>
<path d="M1745,19.6 L1748.2,22.6 L1751.4,19.6" fill="none" stroke="#e6e6e6" stroke-width="1.5" stroke-linecap="round" stroke-linejoin="round"/>
<text x="1708.5" y="78.1" font-size="14.3" fill="#5d606b" stroke="#5d606b" stroke-width="0.12" textLength="41.7" lengthAdjust="spacingAndGlyphs">300,00</text>
<text x="1708.5" y="128.6" font-size="14.3" fill="#5d606b" stroke="#5d606b" stroke-width="0.12" textLength="41.7" lengthAdjust="spacingAndGlyphs">280,00</text>
<text x="1708.5" y="179.0" font-size="14.3" fill="#5d606b" stroke="#5d606b" stroke-width="0.12" textLength="41.7" lengthAdjust="spacingAndGlyphs">260,00</text>
<text x="1708.5" y="229.5" font-size="14.3" fill="#5d606b" stroke="#5d606b" stroke-width="0.12" textLength="41.7" lengthAdjust="spacingAndGlyphs">240,00</text>
<text x="1708.5" y="280.0" font-size="14.3" fill="#5d606b" stroke="#5d606b" stroke-width="0.12" textLength="41.7" lengthAdjust="spacingAndGlyphs">220,00</text>
<text x="1708.5" y="330.4" font-size="14.3" fill="#5d606b" stroke="#5d606b" stroke-width="0.12" textLength="41.7" lengthAdjust="spacingAndGlyphs">200,00</text>
<text x="1708.5" y="380.9" font-size="14.3" fill="#5d606b" stroke="#5d606b" stroke-width="0.12" textLength="41.7" lengthAdjust="spacingAndGlyphs">180,00</text>
<text x="1708.5" y="431.4" font-size="14.3" fill="#5d606b" stroke="#5d606b" stroke-width="0.12" textLength="41.7" lengthAdjust="spacingAndGlyphs">160,00</text>
<text x="1708.5" y="532.3" font-size="14.3" fill="#5d606b" stroke="#5d606b" stroke-width="0.12" textLength="41.7" lengthAdjust="spacingAndGlyphs">120,00</text>
<text x="1708.5" y="582.8" font-size="14.3" fill="#5d606b" stroke="#5d606b" stroke-width="0.12" textLength="41.7" lengthAdjust="spacingAndGlyphs">100,00</text>
<text x="1708.5" y="633.2" font-size="14.3" fill="#5d606b" stroke="#5d606b" stroke-width="0.12" textLength="34.5" lengthAdjust="spacingAndGlyphs">80,00</text>
<text x="1708.5" y="683.7" font-size="14.3" fill="#5d606b" stroke="#5d606b" stroke-width="0.12" textLength="34.5" lengthAdjust="spacingAndGlyphs">60,00</text>
<text x="1708.5" y="734.2" font-size="14.3" fill="#5d606b" stroke="#5d606b" stroke-width="0.12" textLength="34.5" lengthAdjust="spacingAndGlyphs">40,00</text>
<text x="1708.5" y="784.6" font-size="14.3" fill="#5d606b" stroke="#5d606b" stroke-width="0.12" textLength="34.5" lengthAdjust="spacingAndGlyphs">20,00</text>
<text x="1708.5" y="835.1" font-size="14.3" fill="#5d606b" stroke="#5d606b" stroke-width="0.12" textLength="27.3" lengthAdjust="spacingAndGlyphs">0,00</text>
<path d="M1640,471 H1697 V492 H1640 Q1638,492 1638,490 V473 Q1638,471 1640,471 Z" fill="#dcdcdc"/>
<path d="M1698,471 H1754 Q1756,471 1756,473 V507 Q1756,509 1754,509 H1698 Z" fill="#dcdcdc"/>
<text x="1643.1" y="486" font-size="13" fill="#1c1f29" stroke="#1c1f29" stroke-width="0.3" textLength="48.4" lengthAdjust="spacingAndGlyphs">SOLUSD</text>
<text x="1709" y="485.8" font-size="13.5" fill="#1c1f29" stroke="#1c1f29" stroke-width="0.3" textLength="41" lengthAdjust="spacingAndGlyphs">138,75</text>
<text x="1708.4" y="502.8" font-size="13.5" fill="#1c1f29" stroke="#1c1f29" stroke-width="0.3" textLength="41" lengthAdjust="spacingAndGlyphs">4d 16h</text>
<g shape-rendering="crispEdges">
<rect x="1606" y="865" width="80" height="89" fill="#4caf50"/>
<rect x="1607" y="895" width="78" height="29" fill="#787b86"/>
<rect x="1607" y="924" width="78" height="29" fill="#f23645"/>
<rect x="1671.4" y="880" width="5" height="2" fill="#ffffff"/>
<rect x="1671.4" y="909" width="5" height="2" fill="#ffffff"/>
</g>
<text x="1619.9" y="884.1" font-size="12" fill="#ffffff" stroke="#ffffff" stroke-width="0.3" textLength="30" lengthAdjust="spacingAndGlyphs">LONG</text>
<text x="1611.7" y="913.1" font-size="12" fill="#ffffff" stroke="#ffffff" stroke-width="0.3" textLength="49.1" lengthAdjust="spacingAndGlyphs">NEUTRAL</text>
<text x="1618.3" y="941.9" font-size="12" fill="#ffffff" stroke="#ffffff" stroke-width="0.3" textLength="35" lengthAdjust="spacingAndGlyphs">SHORT</text>
<text x="1670.3" y="943.8" font-size="16" fill="#ffffff" font-weight="bold" textLength="9" lengthAdjust="spacingAndGlyphs">4</text>
<text x="1708.5" y="1030.5" font-size="14.3" fill="#5d606b" stroke="#5d606b" stroke-width="0.12" textLength="41.7" lengthAdjust="spacingAndGlyphs">100,00</text>
<text x="1708.5" y="1070.6" font-size="14.3" fill="#5d606b" stroke="#5d606b" stroke-width="0.12" textLength="34.5" lengthAdjust="spacingAndGlyphs">75,00</text>
<g clip-path="url(#cax)">
<path d="M1698,1047 H1747.5 Q1749.5,1047 1749.5,1049 V1066 Q1749.5,1068 1747.5,1068 H1698 Z" fill="#363a45"/>
<text x="1707.9" y="1062.2" font-size="13.5" fill="#ffffff" stroke="#ffffff" stroke-width="0.55" textLength="35.2" lengthAdjust="spacingAndGlyphs">80,00</text>
<path d="M1698,1095 H1747.5 Q1749.5,1095 1749.5,1097 V1114 Q1749.5,1116 1747.5,1116 H1698 Z" fill="#363a45"/>
<text x="1707.9" y="1110.2" font-size="13.5" fill="#ffffff" stroke="#ffffff" stroke-width="0.55" textLength="35.2" lengthAdjust="spacingAndGlyphs">50,00</text>
<path d="M1698,1150.5 H1747.5 Q1749.5,1150.5 1749.5,1152.5 V1169.5 Q1749.5,1171.5 1747.5,1171.5 H1698 Z" fill="#363a45"/>
<text x="1707.9" y="1164.7" font-size="13.5" fill="#ffffff" stroke="#ffffff" stroke-width="0.55" textLength="35.2" lengthAdjust="spacingAndGlyphs">20,00</text>
<path d="M1698,1129 H1747.5 Q1749.5,1129 1749.5,1131 V1148 Q1749.5,1150 1747.5,1150 H1698 Z" fill="#f23645"/>
<text x="1707.9" y="1144.2" font-size="13.5" fill="#ffffff" stroke="#ffffff" stroke-width="0.55" textLength="35.2" lengthAdjust="spacingAndGlyphs">28,78</text>
</g>
<text x="67.9" y="1189.9" font-size="14.5" fill="#5d606b" stroke="#5d606b" stroke-width="0.12" text-anchor="middle" textLength="24.5" lengthAdjust="spacingAndGlyphs">Nov</text>
<text x="155.9" y="1189.9" font-size="14.5" fill="#6c6f7a" font-weight="bold" text-anchor="middle" textLength="32.5" lengthAdjust="spacingAndGlyphs">2024</text>
<text x="253.9" y="1189.9" font-size="14.5" fill="#5d606b" stroke="#5d606b" stroke-width="0.12" text-anchor="middle" textLength="23.3" lengthAdjust="spacingAndGlyphs">Mar</text>
<text x="351.9" y="1189.9" font-size="14.5" fill="#5d606b" stroke="#5d606b" stroke-width="0.12" text-anchor="middle" textLength="25" lengthAdjust="spacingAndGlyphs">Mag</text>
<text x="438.9" y="1189.9" font-size="14.5" fill="#5d606b" stroke="#5d606b" stroke-width="0.12" text-anchor="middle" textLength="22" lengthAdjust="spacingAndGlyphs">Lug</text>
<text x="536.9" y="1189.9" font-size="14.5" fill="#5d606b" stroke="#5d606b" stroke-width="0.12" text-anchor="middle" textLength="20.2" lengthAdjust="spacingAndGlyphs">Set</text>
<text x="635.9" y="1189.9" font-size="14.5" fill="#5d606b" stroke="#5d606b" stroke-width="0.12" text-anchor="middle" textLength="24.5" lengthAdjust="spacingAndGlyphs">Nov</text>
<text x="733.9" y="1189.9" font-size="14.5" fill="#6c6f7a" font-weight="bold" text-anchor="middle" textLength="32.5" lengthAdjust="spacingAndGlyphs">2025</text>
<text x="820.9" y="1189.9" font-size="14.5" fill="#5d606b" stroke="#5d606b" stroke-width="0.12" text-anchor="middle" textLength="23.3" lengthAdjust="spacingAndGlyphs">Mar</text>
<text x="918.9" y="1189.9" font-size="14.5" fill="#5d606b" stroke="#5d606b" stroke-width="0.12" text-anchor="middle" textLength="25" lengthAdjust="spacingAndGlyphs">Mag</text>
<text x="1017.9" y="1189.9" font-size="14.5" fill="#5d606b" stroke="#5d606b" stroke-width="0.12" text-anchor="middle" textLength="22" lengthAdjust="spacingAndGlyphs">Lug</text>
<text x="1104.9" y="1189.9" font-size="14.5" fill="#5d606b" stroke="#5d606b" stroke-width="0.12" text-anchor="middle" textLength="20.2" lengthAdjust="spacingAndGlyphs">Set</text>
<text x="1202.9" y="1189.9" font-size="14.5" fill="#5d606b" stroke="#5d606b" stroke-width="0.12" text-anchor="middle" textLength="24.5" lengthAdjust="spacingAndGlyphs">Nov</text>
<text x="1300.9" y="1189.9" font-size="14.5" fill="#6c6f7a" font-weight="bold" text-anchor="middle" textLength="32.5" lengthAdjust="spacingAndGlyphs">2026</text>
<text x="1388.9" y="1189.9" font-size="14.5" fill="#5d606b" stroke="#5d606b" stroke-width="0.12" text-anchor="middle" textLength="23.3" lengthAdjust="spacingAndGlyphs">Mar</text>
<text x="1486.9" y="1189.9" font-size="14.5" fill="#5d606b" stroke="#5d606b" stroke-width="0.12" text-anchor="middle" textLength="25" lengthAdjust="spacingAndGlyphs">Mag</text>
<text x="1584.9" y="1189.9" font-size="14.5" fill="#5d606b" stroke="#5d606b" stroke-width="0.12" text-anchor="middle" textLength="22" lengthAdjust="spacingAndGlyphs">Lug</text>
<text x="1682.9" y="1189.9" font-size="14.5" fill="#5d606b" stroke="#5d606b" stroke-width="0.12" text-anchor="middle" textLength="20.2" lengthAdjust="spacingAndGlyphs">Set</text>
<circle cx="1729.6" cy="1185.5" r="11.3" fill="#1f2025"/>
<text x="1729.6" y="1190" font-size="12" fill="#77777b" stroke="#77777b" stroke-width="0.15" text-anchor="middle">A</text>
<g stroke="#0b0b0b" stroke-width="3.2" stroke-linejoin="miter" fill="#dcdcdc" paint-order="stroke"><path d="M17,1133 H32.4 V1151.2 H24.3 V1141.2 H17 Z"/><circle cx="37.7" cy="1136.7" r="3.65"/><path d="M43.5,1133 H53.2 L47.5,1151.2 H37.9 Z"/></g>
<circle cx="1258.5" cy="807.3" r="11.7" fill="#0f0f0f" stroke="#ab47bc" stroke-width="1.7"/>
<path d="M1262.6,800.4 L1253.2,808.3 L1258,808.3 L1254.2,814.4 L1263.7,806.4 L1258.9,806.4 Z" fill="#ab47bc"/>
<circle cx="1257.8" cy="837.5" r="12.5" fill="#0c0c0c" stroke="#f23645" stroke-width="1.9"/>
<defs><clipPath id="fl"><circle cx="1257.8" cy="837.6" r="9.8"/></clipPath></defs>
<g clip-path="url(#fl)" shape-rendering="crispEdges"><rect x="1247" y="827" width="22" height="22" fill="#ffffff"/><rect x="1247" y="827" width="22" height="4.5" fill="#ef5350"/><rect x="1247" y="835.3" width="22" height="4.3" fill="#ef5350"/><rect x="1247" y="843.3" width="22" height="5" fill="#ef5350"/><rect x="1247" y="827" width="13" height="12.6" fill="#1e88e5"/></g>
<g clip-path="url(#fl)"><rect x="1249.8999999999999" y="830.0" width="1.4" height="1.2" fill="#e8f0fb"/><rect x="1253.3" y="830.0" width="1.4" height="1.2" fill="#e8f0fb"/><rect x="1256.6" y="830.0" width="1.4" height="1.2" fill="#e8f0fb"/><rect x="1249.8999999999999" y="833.3" width="1.4" height="1.2" fill="#e8f0fb"/><rect x="1253.3" y="833.3" width="1.4" height="1.2" fill="#e8f0fb"/><rect x="1256.6" y="833.3" width="1.4" height="1.2" fill="#e8f0fb"/><rect x="1249.8999999999999" y="836.6" width="1.4" height="1.2" fill="#e8f0fb"/><rect x="1253.3" y="836.6" width="1.4" height="1.2" fill="#e8f0fb"/><rect x="1256.6" y="836.6" width="1.4" height="1.2" fill="#e8f0fb"/></g>
</svg></body></html>
